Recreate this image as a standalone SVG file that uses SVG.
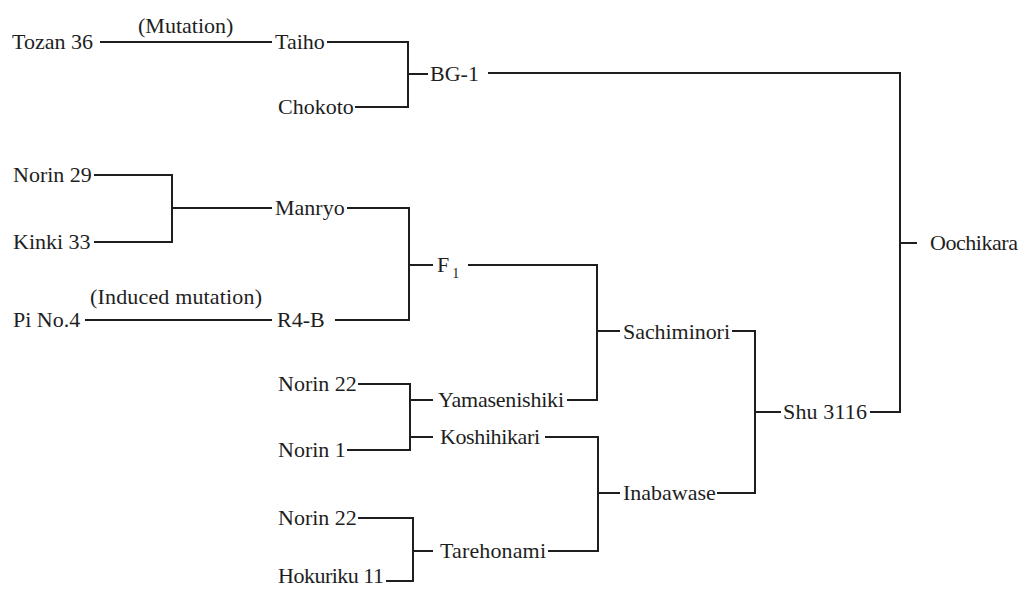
<svg xmlns="http://www.w3.org/2000/svg" width="1023" height="589" viewBox="0 0 1023 589">
<style>
text{font-family:"Liberation Serif","Times New Roman",serif;font-size:22px;fill:#1e1e1e}
.c path{fill:none;stroke:#1e1e1e;stroke-width:2}
.sub{font-size:14px}
</style>
<rect width="1023" height="589" fill="#fff"/>
<g class="c" id="connectors">
<path d="M100,42H272"/>
<path d="M327,42H408V107H355M408,74H428"/>
<path d="M488,73H900V412H870M900,243H917"/>
<path d="M94,175H172V242H94M172,208H272"/>
<path d="M347,208H409V320H335M409,265H433"/>
<path d="M85,320H272"/>
<path d="M468,265H597V400H567M597,331H620"/>
<path d="M358,384H410V450H347M410,400H433M410,437H433"/>
<path d="M545,437H598V551H548M598,493H620"/>
<path d="M358,518H413V581H386M413,551H433"/>
<path d="M732,331H755V493H717M755,412H781"/>
</g>
<g id="tozan36"><text x="12" y="49">Tozan 36</text></g>
<g id="mutation"><text x="138" y="33">(Mutation)</text></g>
<g id="taiho"><text x="275" y="49">Taiho</text></g>
<g id="chokoto"><text x="278" y="114">Chokoto</text></g>
<g id="bg1"><text x="430" y="81">BG-1</text></g>
<g id="norin29"><text x="13" y="182">Norin 29</text></g>
<g id="kinki33"><text x="13" y="249">Kinki 33</text></g>
<g id="manryo"><text x="275" y="215">Manryo</text></g>
<g id="pino4"><text x="13" y="327">Pi No.4</text></g>
<g id="induced"><text x="90" y="304" textLength="172">(Induced mutation)</text></g>
<g id="r4b"><text x="277" y="327">R4-B</text></g>
<g id="f1"><text x="437" y="272">F<tspan class="sub" dx="3" dy="6">1</tspan></text></g>
<g id="norin22a"><text x="278" y="391">Norin 22</text></g>
<g id="norin1"><text x="278" y="457">Norin 1</text></g>
<g id="yamasenishiki"><text x="438" y="407" textLength="126">Yamasenishiki</text></g>
<g id="koshihikari"><text x="440" y="444" textLength="100">Koshihikari</text></g>
<g id="norin22b"><text x="278" y="525">Norin 22</text></g>
<g id="hokuriku11"><text x="278" y="583" textLength="106">Hokuriku 11</text></g>
<g id="tarehonami"><text x="440" y="558" textLength="106">Tarehonami</text></g>
<g id="sachiminori"><text x="623" y="339" textLength="107">Sachiminori</text></g>
<g id="inabawase"><text x="623" y="500">Inabawase</text></g>
<g id="shu3116"><text x="783" y="419" textLength="84">Shu 3116</text></g>
<g id="oochikara"><text x="930" y="250" textLength="88">Oochikara</text></g>
</svg>
